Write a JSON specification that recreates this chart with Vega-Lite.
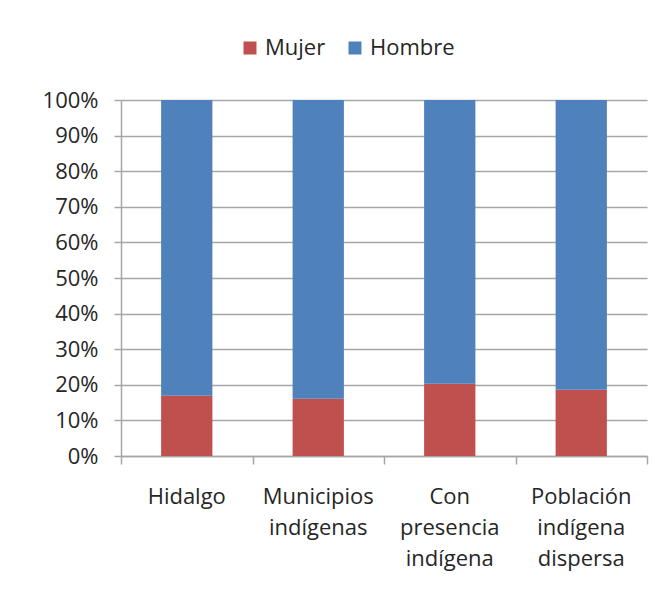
{
  "$schema": "https://vega.github.io/schema/vega-lite/v6.json",
  "autosize": "none",
  "width": 526,
  "height": 356,
  "padding": {"left": 121, "top": 100, "right": 18, "bottom": 135},
  "background": "white",
  "config": {
    "font": "Open Sans",
    "view": {"stroke": null}
  },
  "data": {
    "values": [
      {"tipo": "Hidalgo", "sexo": "Mujer", "valor": 16.9},
      {"tipo": "Hidalgo", "sexo": "Hombre", "valor": 83.1},
      {"tipo": "Municipios indígenas", "sexo": "Mujer", "valor": 16.1},
      {"tipo": "Municipios indígenas", "sexo": "Hombre", "valor": 83.9},
      {"tipo": "Con presencia indígena", "sexo": "Mujer", "valor": 20.3},
      {"tipo": "Con presencia indígena", "sexo": "Hombre", "valor": 79.7},
      {"tipo": "Población indígena dispersa", "sexo": "Mujer", "valor": 18.6},
      {"tipo": "Población indígena dispersa", "sexo": "Hombre", "valor": 81.4}
    ]
  },
  "layer": [
    {
      "mark": {"type": "bar"},
      "encoding": {
        "x": {
          "field": "tipo",
          "type": "nominal",
          "sort": null,
          "scale": {"paddingInner": 0.61, "paddingOuter": 0.305},
          "axis": {
            "title": null,
            "orient": "bottom",
            "labelAngle": 0,
            "labelFontSize": 22,
            "labelColor": "#262626",
            "labelPadding": 30,
            "labelLineHeight": 31,
            "labelBaseline": "top",
            "labelExpr": "datum.value == 'Municipios indígenas' ? ['Municipios','indígenas'] : datum.value == 'Con presencia indígena' ? ['Con','presencia','indígena'] : datum.value == 'Población indígena dispersa' ? ['Población','indígena','dispersa'] : datum.value",
            "ticks": false,
            "domainColor": "#A6A6A6",
            "domainWidth": 1.5
          }
        },
        "y": {
          "field": "valor",
          "type": "quantitative",
          "stack": "normalize",
          "scale": {"domain": [0, 1], "nice": false},
          "axis": {
            "title": null,
            "format": ".0%",
            "values": [0, 0.1, 0.2, 0.3, 0.4, 0.5, 0.6, 0.7, 0.8, 0.9, 1.0],
            "labelFontSize": 22,
            "labelColor": "#262626",
            "labelPadding": 16,
            "tickSize": 7,
            "tickColor": "#A6A6A6",
            "tickWidth": 1.5,
            "domainColor": "#A6A6A6",
            "domainWidth": 1.5,
            "grid": true,
            "gridColor": "#A6A6A6",
            "gridWidth": 1.5
          }
        },
        "color": {
          "field": "sexo",
          "type": "nominal",
          "scale": {"domain": ["Mujer", "Hombre"], "range": ["#C0504D", "#4F81BD"]},
          "legend": {
            "title": null,
            "orient": "none",
            "direction": "horizontal",
            "legendX": 118,
            "legendY": -63,
            "symbolType": "square",
            "symbolSize": 169,
            "symbolStrokeWidth": 0,
            "labelFontSize": 22,
            "labelColor": "#262626",
            "labelOffset": 4,
            "columnPadding": 18
          }
        },
        "order": {"field": "sexo", "sort": "descending"}
      }
    },
    {
      "mark": {"type": "point", "opacity": 0},
      "encoding": {
        "x": {
          "datum": 0,
          "type": "quantitative",
          "scale": {"domain": [0, 4], "nice": false, "zero": false},
          "axis": {
            "title": null,
            "orient": "bottom",
            "values": [0, 1, 2, 3, 4],
            "labels": false,
            "domain": false,
            "grid": false,
            "ticks": true,
            "tickSize": 8,
            "tickColor": "#A6A6A6",
            "tickWidth": 1.5
          }
        }
      }
    }
  ],
  "resolve": {"scale": {"x": "independent"}, "axis": {"x": "independent"}}
}
